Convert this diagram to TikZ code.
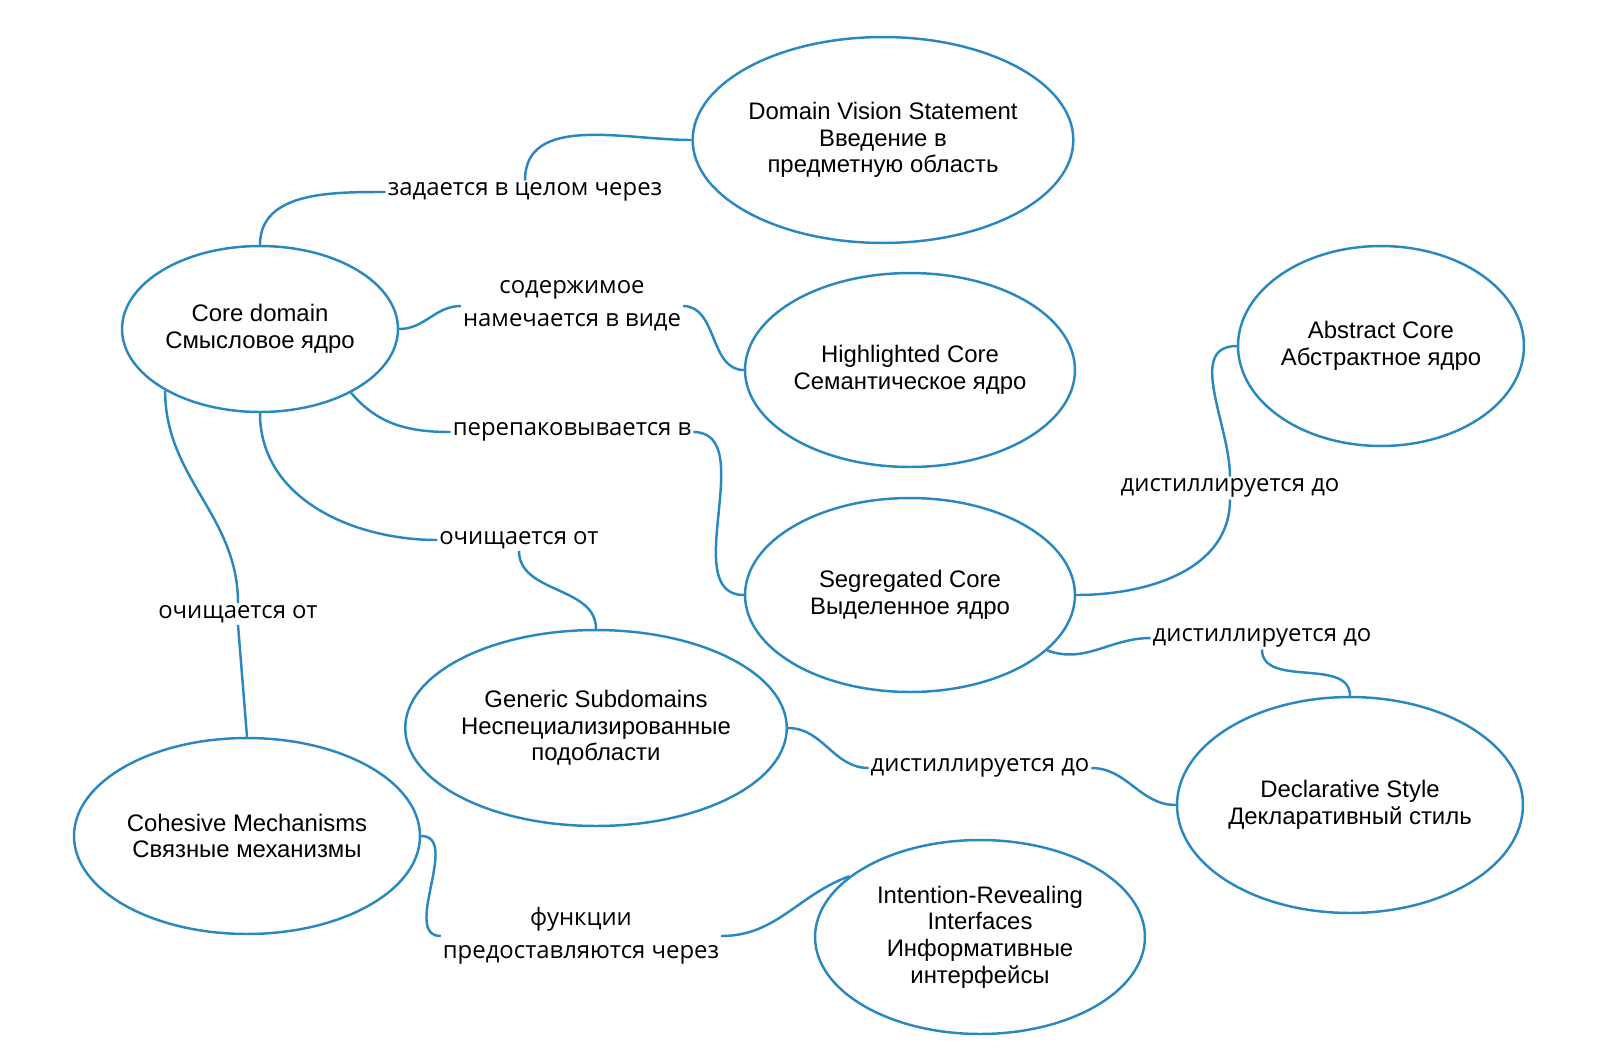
\documentclass[tikz,border=0pt]{standalone}
\usepackage{fontspec}
\setmainfont{Liberation Sans}
\newfontfamily\lblfont{Open Sans}
\usetikzlibrary{shapes.geometric}
\definecolor{lnblue}{RGB}{42,136,192}
\begin{document}
\begin{tikzpicture}[x=0.02cm,y=-0.02cm,
  ell/.style={ellipse,draw=lnblue,line width=1.4pt,align=center,font=\fontsize{13.6}{15.2}\selectfont,inner sep=0pt},
  lbl/.style={align=center,font=\lblfont\fontsize{13.6}{19}\selectfont,inner sep=1pt},
  con/.style={draw=lnblue,line width=1.4pt}]
\useasboundingbox (0,0) rectangle (1600,1062);
\node[ell,minimum width=7.52cm,minimum height=4.12cm] (dv) at (883,140) {Domain Vision Statement\\Введение в\\предметную область};
\node[ell,minimum width=5.52cm,minimum height=3.32cm] (core) at (260,329) {Core domain\\Смысловое ядро};
\node[ell,minimum width=6.6cm,minimum height=3.88cm] (hl) at (910,370) {Highlighted Core\\Семантическое ядро};
\node[ell,minimum width=5.72cm,minimum height=4.0cm] (abs) at (1381,346) {Abstract Core\\Абстрактное ядро};
\node[ell,minimum width=6.6cm,minimum height=3.88cm] (seg) at (910,595) {Segregated Core\\Выделенное ядро};
\node[ell,minimum width=7.56cm,minimum height=3.92cm] (gen) at (596,728) {Generic Subdomains\\Неспециализированные\\подобласти};
\node[ell,minimum width=6.92cm,minimum height=4.32cm] (decl) at (1350,805) {Declarative Style\\Декларативный стиль};
\node[ell,minimum width=6.92cm,minimum height=3.92cm] (coh) at (247,836) {Cohesive Mechanisms\\Связные механизмы};
\node[ell,minimum width=6.6cm,minimum height=3.88cm] (int) at (980,937) {Intention-Revealing\\Interfaces\\Информативные\\интерфейсы};

\node[lbl] (l1) at (525,192) {задается в целом через};
\node[lbl] (l2) at (572,306) {содержимое\\намечается в виде};
\node[lbl] (l3) at (572,432) {перепаковывается в};
\node[lbl] (l4) at (519,540) {очищается от};
\node[lbl] (l5) at (238,614) {очищается от};
\node[lbl] (l6) at (1230,488) {дистиллируется до};
\node[lbl] (l7) at (1262,638) {дистиллируется до};
\node[lbl] (l8) at (980,768) {дистиллируется до};
\node[lbl] (l9) at (581,936) {функции\\предоставляются через};

\path[con] (core.north) to[out=90,in=180] (l1.west);
\path[con] (l1.north) to[out=90,in=180] (dv.west);
\path[con] (core.east) to[out=0,in=180] (l2.west);
\path[con] (l2.east) to[out=0,in=180] (hl.west);
\path[con] (core.-35) to[out=-50,in=180] (l3.west);
\path[con] (l3.east) to[out=0,in=180] (seg.west);
\path[con] (core.south) to[out=-90,in=180] (l4.west);
\path[con] (l4.south) to[out=-90,in=90] (gen.north);
\path[con] (core.213) to[out=-90,in=90] (l5.north);
\path[con] (l5.south) -- (coh.north);
\path[con] (seg.east) to[out=0,in=-90] (l6.south);
\path[con] (l6.north) to[out=90,in=180] (abs.west);
\path[con] (seg.-22) to[out=-20,in=180] (l7.west);
\path[con] (l7.south) to[out=-90,in=90] (decl.north);
\path[con] (gen.east) to[out=0,in=180] (l8.west);
\path[con] (l8.east) to[out=0,in=180] (decl.west);
\path[con] (coh.east) to[out=0,in=180] (l9.west);
\path[con] (l9.east) to[out=0,in=200] (int.155);
\end{tikzpicture}
\end{document}
